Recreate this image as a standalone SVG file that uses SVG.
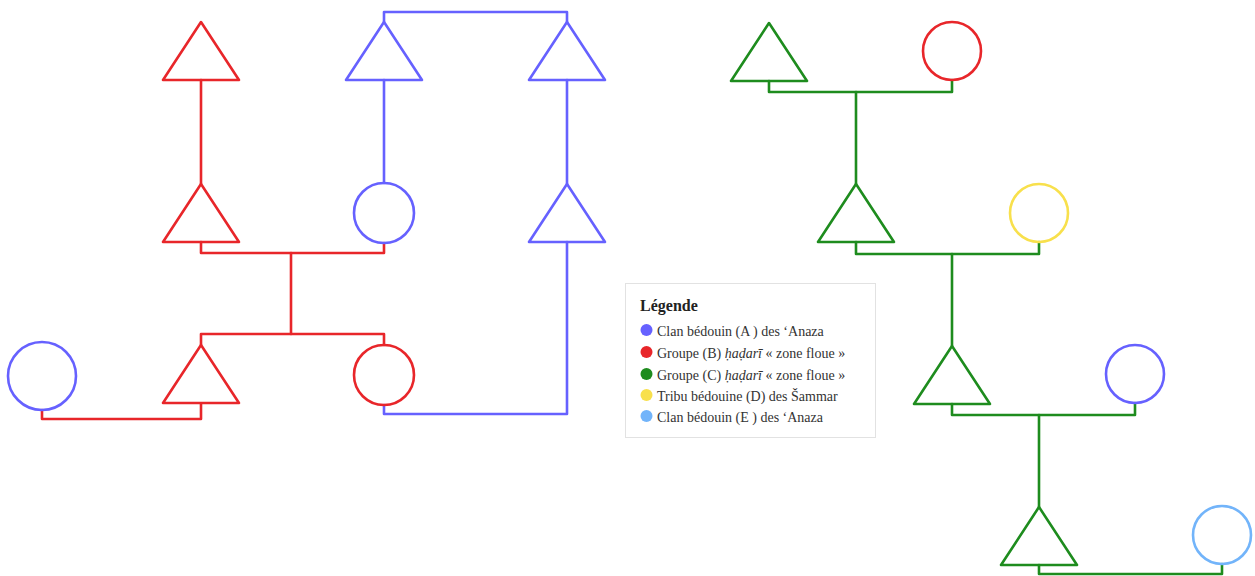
<svg xmlns="http://www.w3.org/2000/svg" width="1255" height="576" viewBox="0 0 1255 576">
<style>
.s{fill:none;stroke-width:2.6;stroke-linejoin:round;stroke-linecap:round}
.bl{stroke:#6661ff}
.rd{stroke:#e8262a}
.gr{stroke:#1e8c1e}
.ye{stroke:#f8e04c}
.lb{stroke:#72b4fa}
.lt{font-family:"Liberation Serif","DejaVu Serif",serif;font-size:14px;fill:#333}
.ttl{font-family:"Liberation Serif","DejaVu Serif",serif;font-size:16px;font-weight:bold;fill:#222}
</style>
<defs>
<path id="tri" d="M0 0 L38 58 L-38 58 Z"/>
</defs>
<rect width="1255" height="576" fill="#fff"/>
<g id="connectors">
<path class="s rd" d="M201 80 V184"/>
<path class="s rd" d="M201 242 V253 H384 V243"/>
<path class="s rd" d="M291 253 V334"/>
<path class="s rd" d="M201 345 V334 H384 V345"/>
<path class="s rd" d="M201 404 V419 H42 V410"/>
<path class="s bl" d="M384 405 V414 H567 V242"/>
<path class="s bl" d="M384 183 V80"/>
<path class="s bl" d="M567 184 V80"/>
<path class="s bl" d="M384 22 V12 H567 V22"/>
<path class="s gr" d="M769 81 V92 H952 V80"/>
<path class="s gr" d="M856 92 V184"/>
<path class="s gr" d="M856 242 V254 H1039 V242"/>
<path class="s gr" d="M952 254 V346"/>
<path class="s gr" d="M952 404 V415 H1135 V403"/>
<path class="s gr" d="M1039 415 V507"/>
<path class="s gr" d="M1039 565 V574 H1222 V564"/>
</g>
<g id="n_r1"><use href="#tri" x="201" y="22" class="s rd"/></g>
<g id="n_r2"><use href="#tri" x="201" y="184" class="s rd"/></g>
<g id="n_b1"><circle cx="384" cy="213" r="30" class="s bl"/></g>
<g id="n_r3"><use href="#tri" x="201" y="345" class="s rd"/></g>
<g id="n_r4"><circle cx="384" cy="375" r="30" class="s rd"/></g>
<g id="n_b0"><circle cx="42" cy="376" r="34" class="s bl"/></g>
<g id="n_b2"><use href="#tri" x="384" y="22" class="s bl"/></g>
<g id="n_b3"><use href="#tri" x="567" y="22" class="s bl"/></g>
<g id="n_b4"><use href="#tri" x="567" y="184" class="s bl"/></g>
<g id="n_g1"><use href="#tri" x="769" y="23" class="s gr"/></g>
<g id="n_c1"><circle cx="952" cy="51" r="29" class="s rd"/></g>
<g id="n_g2"><use href="#tri" x="856" y="184" class="s gr"/></g>
<g id="n_c2"><circle cx="1039" cy="213" r="29" class="s ye"/></g>
<g id="n_g3"><use href="#tri" x="952" y="346" class="s gr"/></g>
<g id="n_c3"><circle cx="1135" cy="374" r="29" class="s bl"/></g>
<g id="n_g4"><use href="#tri" x="1039" y="507" class="s gr"/></g>
<g id="n_c4"><circle cx="1222" cy="535" r="29" class="s lb"/></g>
<g id="legend">
<rect x="625.5" y="283.5" width="250" height="154" fill="#fff" stroke="#e2e2e2"/>
<text class="ttl" x="640" y="311">Légende</text>
<circle cx="646.5" cy="330" r="6" fill="#6661ff"/>
<text class="lt" x="657" y="336">Clan bédouin (A ) des ‘Anaza</text>
<circle cx="646.5" cy="352" r="6" fill="#e8262a"/>
<text class="lt" x="657" y="358">Groupe (B) <tspan font-style="italic">ḥaḍarī</tspan> « zone floue »</text>
<circle cx="646.5" cy="374" r="6" fill="#1e8c1e"/>
<text class="lt" x="657" y="380">Groupe (C) <tspan font-style="italic">ḥaḍarī</tspan> « zone floue »</text>
<circle cx="646.5" cy="395" r="6" fill="#f8e04c"/>
<text class="lt" x="657" y="401">Tribu bédouine (D) des Šammar</text>
<circle cx="646.5" cy="416" r="6" fill="#72b4fa"/>
<text class="lt" x="657" y="422">Clan bédouin (E ) des ‘Anaza</text>
</g>
</svg>
